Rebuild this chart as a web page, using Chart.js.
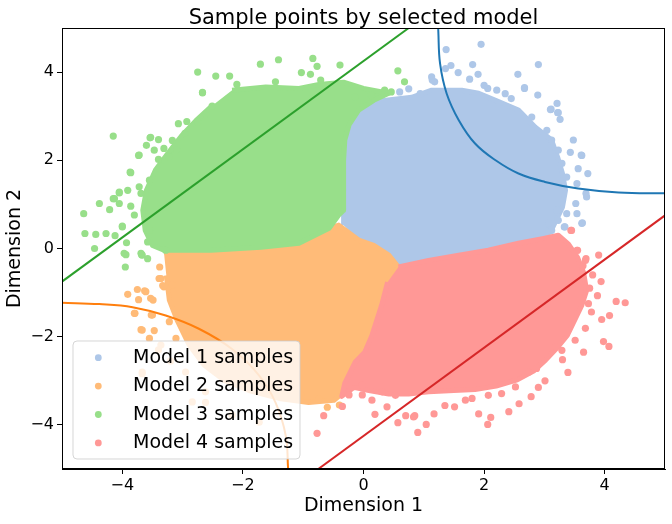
<!DOCTYPE html>
<html>
<head>
<meta charset="utf-8">
<script src="https://cdn.jsdelivr.net/npm/chart.js@4.4.0/dist/chart.umd.min.js"></script>
<style>
  html, body { margin: 0; padding: 0; background: #fff; }
  #wrap { width: 672px; height: 524px; }
</style>
</head>
<body>
<div id="wrap"><canvas id="chart" width="672" height="524"></canvas></div>
<script>
// tick values on both axes
const xTicks = [-4, -2, 0, 2, 4];
const yTicks = [-4, -2, 0, 2, 4];
const chartTitle = 'Sample points by selected model';
const legendLabels = ['Model 1 samples', 'Model 2 samples', 'Model 3 samples', 'Model 4 samples'];

// dense part of each cloud, traced round its edge
const model1Core = [[-0.33,0.53],[-0.33,2.00],[-0.31,2.46],[-0.24,2.80],[-0.08,3.14],[0.17,3.36],[0.37,3.36],
  [0.80,3.43],[1.13,3.59],[1.63,3.59],[1.91,3.52],[2.19,3.36],[2.57,3.14],[2.85,2.75],[3.12,2.46],[3.22,2.07],
  [3.30,1.70],[3.35,1.32],[3.30,0.94],[3.18,0.60],[3.10,0.37],[2.57,0.12],[2.07,-0.04],[1.58,-0.15],[1.08,-0.27],
  [0.58,-0.42],[0.42,-0.15],[0.17,0.07],[-0.08,0.19]];
const model2Core = [[-3.31,-0.08],[-2.53,-0.04],[-1.70,0.03],[-1.07,0.12],[-0.57,0.46],[-0.41,0.53],[-0.08,0.19],
  [0.17,0.07],[0.42,-0.15],[0.58,-0.42],[0.40,-0.76],[0.30,-1.29],[0.14,-1.97],[0.02,-2.35],[-0.14,-2.58],
  [-0.24,-2.94],[-0.33,-3.26],[-0.49,-3.44],[-0.91,-3.49],[-1.40,-3.40],[-1.90,-3.22],[-2.31,-2.99],[-2.64,-2.65],
  [-2.89,-2.19],[-3.09,-1.63],[-3.22,-1.17],[-3.27,-0.61]];
const model3Core = [[-2.18,3.59],[-1.62,3.66],[-1.07,3.63],[-0.74,3.72],[-0.33,3.77],[0.00,3.63],[0.42,3.52],
  [0.17,3.36],[-0.08,3.14],[-0.24,2.80],[-0.31,2.46],[-0.33,2.00],[-0.33,0.87],[-0.41,0.76],[-0.57,0.46],
  [-1.07,0.12],[-1.70,0.03],[-2.53,-0.04],[-3.31,-0.04],[-3.50,0.07],[-3.62,0.41],[-3.66,0.87],[-3.60,1.32],
  [-3.45,1.78],[-3.25,2.15],[-3.02,2.55],[-2.78,2.90],[-2.50,3.25]];
const model4Core = [[0.58,-0.42],[1.08,-0.27],[1.58,-0.15],[2.07,-0.04],[2.57,0.12],[2.99,0.23],[3.23,0.30],
  [3.40,0.10],[3.55,-0.20],[3.65,-0.54],[3.70,-0.95],[3.62,-1.29],[3.50,-1.63],[3.38,-1.97],[3.22,-2.24],
  [3.02,-2.53],[2.82,-2.78],[2.55,-2.98],[2.20,-3.12],[1.85,-3.20],[1.50,-3.22],[1.08,-3.25],[0.75,-3.30],
  [0.42,-3.30],[0.09,-3.22],[-0.16,-3.15],[-0.36,-3.35],[-0.31,-3.05],[-0.14,-2.58],[0.02,-2.35],[0.14,-1.97],
  [0.30,-1.29],[0.40,-0.76]];

// scattered points outside the dense parts
const model1Points = [[1.37,4.51],[1.95,4.63],[1.45,4.15],[1.81,4.17],[1.57,3.99],[1.90,3.95],[2.90,4.17],
  [2.56,3.95],[2.67,3.63],[2.89,3.48],[3.11,3.16],[3.23,3.08],[3.26,2.93],[3.48,2.46],[3.62,2.11],[3.72,1.70],
  [3.70,1.17],[3.63,0.58],[1.36,4.08],[2.06,3.63],[2.21,3.59],[0.94,3.51],[1.14,3.82],[3.43,2.18],[3.54,0.79],
  [3.23,0.83],[3.69,1.25],[3.33,0.49],[3.08,0.41],[1.13,3.89],[1.18,3.78],[1.76,3.84],[2.67,3.65],[2.35,3.51],
  [3.10,3.15],[3.22,3.08],[2.79,2.98],[3.04,2.68],[3.61,2.12],[3.56,1.81],[3.54,1.47],[3.52,1.02],[3.62,0.57],
  [3.21,0.87],[3.37,0.79],[3.23,0.64],[3.34,0.49],[3.07,0.57],[3.12,0.41],[2.76,0.34],[3.21,3.29],[3.12,2.46],
  [3.23,2.23],[3.29,1.93],[3.37,1.62],[2.45,3.40],[2.00,3.70],[0.60,3.55],[0.75,3.62]];
const model2Points = [[-3.38,-0.42],[-3.39,-0.68],[-3.75,-0.93],[-3.63,-0.96],[-3.91,-1.04],[-3.73,-1.16],
  [-3.79,-1.47],[-3.69,-1.84],[-3.49,-1.17],[-3.52,-1.51],[-3.47,-1.86],[-3.67,-2.84],[-3.33,-0.84],
  [-0.74,-3.41],[-1.04,-3.32],[-1.24,-3.33],[-2.95,-2.80],[-2.62,-3.49],[-2.18,-3.78],[-1.73,-3.94],
  [-3.40,-2.30],[-3.20,-2.55],[-3.36,-0.68],[-3.31,-0.87],[-3.61,-0.98],[-3.53,-1.13],[-3.80,-1.47],
  [-3.50,-1.51],[-3.67,-1.85],[-3.55,-2.04],[-3.36,-2.19],[-3.17,-0.83],[-3.22,-1.66],[-3.11,-2.04],
  [-3.67,-2.80],[-2.84,-3.48],[-2.62,-3.25],[-0.40,-3.55],[-0.60,-3.60]];
const model3Points = [[-2.75,4.00],[-2.45,3.91],[-2.22,3.91],[-1.71,4.18],[-1.41,4.28],[-2.10,3.72],[-2.67,3.54],
  [-4.15,2.55],[-3.07,2.83],[-2.93,2.88],[-3.53,2.52],[-3.40,2.47],[-3.17,2.45],[-3.73,2.11],[-3.86,1.72],
  [-4.15,1.13],[-4.38,1.02],[-4.21,0.88],[-4.64,0.79],[-4.05,1.26],[-4.00,0.51],[-4.62,0.34],[-4.44,0.32],
  [-4.27,0.34],[-4.46,0.00],[-3.94,-0.14],[-3.67,-0.15],[-3.95,-0.42],[-3.69,-0.11],[-3.58,-0.23],[-0.84,4.31],
  [-0.77,4.13],[-1.46,3.78],[-1.03,3.99],[-0.88,3.95],[-0.71,3.82],[-0.39,4.16],[0.57,4.03],[0.68,3.78],
  [0.13,3.48],[0.35,3.59],[0.46,3.55],[-0.14,3.44],[-2.67,3.53],[-2.51,3.23],[-2.62,3.05],[-2.75,2.87],
  [-2.96,2.61],[-3.54,2.51],[-3.60,2.34],[-3.47,2.23],[-3.72,2.12],[-3.31,2.27],[-3.10,2.24],[-3.40,2.02],
  [-3.87,1.73],[-4.05,1.28],[-4.13,1.13],[-4.05,1.02],[-3.91,1.32],[-3.72,1.40],[-3.86,0.96],[-4.12,0.29],
  [-4.00,0.49],[-3.93,0.13],[-3.68,-0.14],[-3.58,0.15],[-3.80,0.76],[-3.55,0.41],[-3.28,-0.04],[-3.69,1.25],
  [-3.55,1.55],[-3.97,-0.11],[-3.22,2.08]];
const model4Points = [[4.19,-1.20],[4.34,-1.23],[4.08,-1.52],[3.95,-1.61],[3.98,-2.11],[4.07,-2.22],[3.65,-2.35],
  [3.39,-2.81],[3.30,-2.52],[3.01,-3.00],[2.90,-3.15],[2.78,-3.36],[2.58,-3.52],[2.41,-3.70],[2.11,-3.83],
  [2.06,-3.99],[1.91,-3.75],[1.04,-3.99],[0.90,-4.17],[0.57,-3.95],[0.19,-3.76],[1.17,-3.75],[0.70,-3.79],
  [-0.35,-3.58],[-0.24,-3.32],[-0.02,-3.32],[3.94,-0.75],[3.88,-1.07],[3.64,-0.39],[3.44,0.41],[3.69,-0.23],
  [3.55,-0.04],[-0.66,-3.79],[-0.77,-4.19],[0.85,-3.79],[1.35,-3.56],[0.14,-3.44],[0.39,-3.59],[0.83,-3.82],
  [1.51,-3.59],[1.69,-3.44],[1.80,-3.40],[2.29,-3.29],[2.52,-3.14],[2.87,-2.72],[3.29,-2.31],[3.51,-2.08],
  [3.68,-1.81],[3.78,-1.44],[3.73,-1.25],[3.18,-2.23],[2.74,-2.80],[2.07,-3.33],[0.53,-3.33],[0.31,-3.25],
  [-0.02,-3.10],[3.45,0.41],[3.54,-0.04],[3.68,-0.27],[3.90,-0.15],[3.80,-0.60],[3.75,-0.90]];

// decision boundaries
const boundary1 = [[1.24,5.00],[1.24,4.95],[1.27,4.19],[1.38,3.51],[1.58,2.91],[1.85,2.38],[2.19,2.00],
  [2.57,1.70],[3.01,1.51],[3.56,1.36],[4.23,1.27],[5.00,1.25]];
const boundary2 = [[-5.00,-1.23],[-4.38,-1.26],[-3.83,-1.33],[-3.28,-1.52],[-2.73,-1.82],[-2.18,-2.28],
  [-1.73,-2.88],[-1.46,-3.49],[-1.29,-4.24],[-1.25,-5.00]];
const boundary3 = [[-5.00,-0.75],[0.75,5.00]];
const boundary4 = [[-0.75,-5.00],[5.00,0.75]];

const fillColors = ['#aec7e8', '#ffbb78', '#98df8a', '#ff9896'];
const lineColors = ['#1f77b4', '#ff7f0e', '#2ca02c', '#d62728'];

const toXY = arr => arr.map(p => ({ x: p[0], y: p[1] }));

function coreSet(data, i) {
  return {
    data: toXY(data), showLine: true, fill: 'shape', tension: 0,
    backgroundColor: fillColors[i], borderColor: fillColors[i], borderWidth: 5,
    borderJoinStyle: 'round', pointRadius: 0, order: 20 - i
  };
}
function pointSet(data, i) {
  return {
    data: toXY(data), showLine: false, backgroundColor: fillColors[i], borderWidth: 0,
    pointRadius: 3.6, pointHoverRadius: 3.6, order: 10 - i
  };
}
function lineSet(data, i, curved) {
  return {
    data: toXY(data), showLine: true, fill: false, tension: curved ? 0.4 : 0,
    borderColor: lineColors[i], borderWidth: 2, pointRadius: 0, order: 1
  };
}

const datasets = [
  coreSet(model1Core, 0), coreSet(model2Core, 1), coreSet(model3Core, 2), coreSet(model4Core, 3),
  pointSet(model1Points, 0), pointSet(model2Points, 1), pointSet(model3Points, 2), pointSet(model4Points, 3),
  lineSet(boundary1, 0, true), lineSet(boundary2, 1, true), lineSet(boundary3, 2, false), lineSet(boundary4, 3, false)
];

const FONT = "'DejaVu Sans', sans-serif";
const minus = v => String(v).replace('-', '\u2212');

const framePlugin = {
  id: 'frameAndLegend',
  afterDraw(chart) {
    const ctx = chart.ctx;
    const a = chart.chartArea;
    ctx.save();
    ctx.strokeStyle = '#000';
    ctx.lineWidth = 1;
    ctx.strokeRect(Math.round(a.left) + 0.5, Math.round(a.top) + 0.5,
      Math.round(a.right - a.left) - 1, Math.round(a.bottom - a.top) - 1);

    // title centred over the plot area
    ctx.fillStyle = '#000';
    ctx.font = '21px ' + FONT;
    ctx.textAlign = 'center';
    ctx.textBaseline = 'alphabetic';
    ctx.fillText(chartTitle, (a.left + a.right) / 2, 23.5);

    // legend box, lower left inside the plot
    const bx = 73, by = 341, bw = 227, bh = 118, r = 4;
    ctx.beginPath();
    ctx.moveTo(bx + r, by);
    ctx.arcTo(bx + bw, by, bx + bw, by + bh, r);
    ctx.arcTo(bx + bw, by + bh, bx, by + bh, r);
    ctx.arcTo(bx, by + bh, bx, by, r);
    ctx.arcTo(bx, by, bx + bw, by, r);
    ctx.closePath();
    ctx.fillStyle = 'rgba(255,255,255,0.8)';
    ctx.fill();
    ctx.strokeStyle = 'rgba(204,204,204,0.8)';
    ctx.stroke();

    ctx.font = '19px ' + FONT;
    ctx.textAlign = 'left';
    legendLabels.forEach((label, i) => {
      const cy = 357.7 + i * 28.4;
      ctx.beginPath();
      ctx.arc(98.3, cy, 3.4, 0, Math.PI * 2);
      ctx.fillStyle = fillColors[i];
      ctx.fill();
      ctx.fillStyle = '#000';
      ctx.fillText(label, 133, cy + 5.2);
    });
    ctx.restore();
  }
};

new Chart(document.getElementById('chart').getContext('2d'), {
  type: 'scatter',
  data: { datasets: datasets },
  options: {
    responsive: false,
    animation: false,
    events: [],
    layout: { padding: { left: 0, right: 7, top: 28, bottom: 0 } },
    plugins: {
      legend: { display: false },
      tooltip: { enabled: false },
      title: { display: false }
    },
    scales: {
      x: {
        type: 'linear', min: -5, max: 5,
        afterBuildTicks: s => { s.ticks = xTicks.map(v => ({ value: v })); },
        afterFit: s => { s.height = 55; },
        ticks: { color: '#000', font: { family: FONT, size: 16 }, padding: 2, callback: v => minus(v), maxRotation: 0 },
        grid: { drawOnChartArea: false, drawTicks: true, tickLength: 5, color: '#000' },
        border: { display: true, color: '#000' },
        title: { display: true, text: 'Dimension 1', color: '#000', font: { family: FONT, size: 19 }, padding: { top: 0, bottom: 7 } }
      },
      y: {
        type: 'linear', min: -5, max: 5,
        afterBuildTicks: s => { s.ticks = yTicks.map(v => ({ value: v })); },
        afterFit: s => { s.width = 62; },
        ticks: { color: '#000', font: { family: FONT, size: 16 }, padding: 3, callback: v => minus(v) },
        grid: { drawOnChartArea: false, drawTicks: true, tickLength: 5, color: '#000' },
        border: { display: true, color: '#000' },
        title: { display: true, text: 'Dimension 2', color: '#000', font: { family: FONT, size: 19 }, padding: { top: 4, bottom: 0 } }
      }
    }
  },
  plugins: [framePlugin]
});
</script>
</body>
</html>
